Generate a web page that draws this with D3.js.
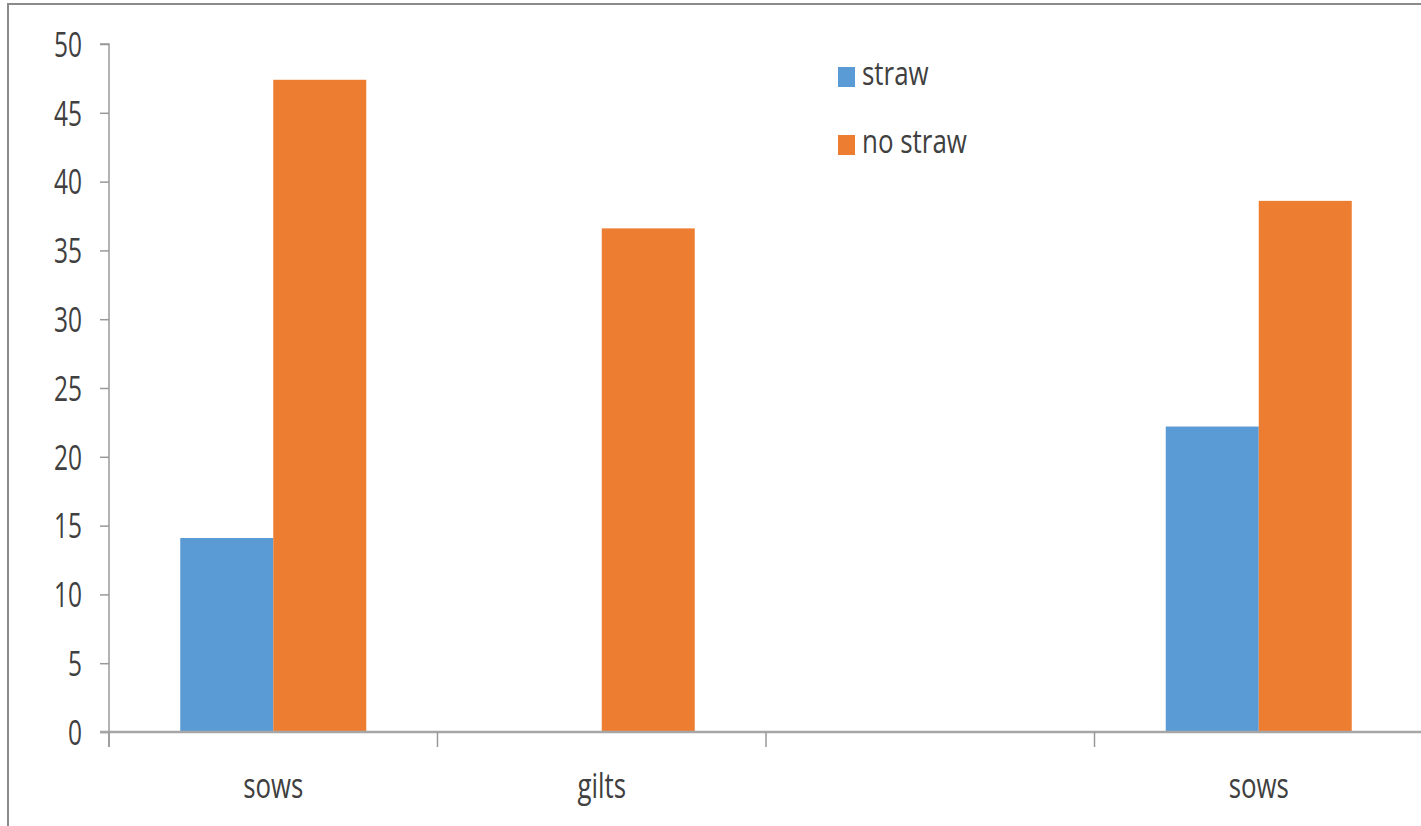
<!DOCTYPE html>
<html><head><meta charset="utf-8">
<script src="https://cdn.jsdelivr.net/npm/d3@7"></script>
<style>
html,body{margin:0;padding:0;background:#fff;}
svg{display:block;}
text{font-family:"Open Sans",sans-serif;fill:#404040;}
</style></head>
<body>
<svg id="c" width="1421" height="826"></svg>
<script>
const categories = ["sows", "gilts", "", "sows"];
const seriesNames = ["straw", "no straw"];
const straw = [14.1, 0, null, 22.2];
const noStraw = [47.4, 36.6, null, 38.6];
const yTicks = [0, 5, 10, 15, 20, 25, 30, 35, 40, 45, 50];
const colors = ["#5B9BD5", "#ED7D31"];

(function () {
const svg = d3.select("#c");
// outer frame
svg.append("rect").attr("x", 8).attr("y", 4).attr("width", 1430).attr("height", 840)
  .attr("fill", "none").attr("stroke", "#8a8a8a").attr("stroke-width", 2);

const mLeft = 109, mRight = 1423, mTop = 44, mBottom = 732;
const idx = categories.map((d, i) => i);
const x0 = d3.scaleBand().domain(idx).range([mLeft, mRight]).paddingInner(0).paddingOuter(0);
const x1 = d3.scaleBand().domain(seriesNames).range([0, x0.bandwidth()]).paddingInner(0).paddingOuter(0.766);
const y = d3.scaleLinear().domain([0, 50]).range([mBottom, mTop]);

const seriesVals = [straw, noStraw];
const g = svg.append("g");
idx.forEach(i => {
  seriesNames.forEach((s, k) => {
    const v = seriesVals[k][i];
    if (v == null || v === 0) return;
    g.append("rect")
      .attr("x", x0(i) + x1(s))
      .attr("y", y(v))
      .attr("width", x1.bandwidth())
      .attr("height", y(0) - y(v))
      .attr("fill", colors[k]);
  });
});

// y axis
const yAxis = svg.append("g").attr("transform", `translate(${mLeft},0)`)
  .call(d3.axisLeft(y).tickValues(yTicks).tickSize(9).tickPadding(16));
yAxis.select(".domain").attr("stroke", "#999").attr("stroke-width", 1.5).attr("d", `M-9,${mTop}H0V${mBottom + 15}`);
yAxis.selectAll(".tick line").attr("stroke", "#999").attr("stroke-width", 1.5);
yAxis.selectAll(".tick text").attr("font-size", 34).attr("fill", "#404040")
  .attr("x", 0).attr("dy", "0.36em")
  .attr("transform", "translate(-27,0) scale(0.72,1)");

// x axis
const xAxis = svg.append("g").attr("transform", `translate(0,${mBottom})`)
  .call(d3.axisBottom(x0).tickSize(0).tickFormat(i => categories[i]));
xAxis.select(".domain").attr("stroke", "#a6a6a6").attr("stroke-width", 2.5).attr("d", `M${mLeft - 9},0H${mRight}`);
xAxis.selectAll(".tick text").attr("font-size", 34).attr("fill", "#404040")
  .attr("y", 0).attr("dy", 0)
  .attr("transform", "translate(0,66) scale(0.76,1)");
// category separators
idx.forEach(i => {
  xAxis.append("line").attr("x1", x0(i)).attr("x2", x0(i)).attr("y1", 0).attr("y2", 15)
    .attr("stroke", "#999").attr("stroke-width", 1.5);
});

// legend
const legend = svg.append("g");
seriesNames.forEach((s, k) => {
  const ly = 67 + k * 68;
  legend.append("rect").attr("x", 838).attr("y", ly).attr("width", 17).attr("height", 20).attr("fill", colors[k]);
  legend.append("text").attr("transform", `translate(862,${ly + 18}) scale(0.81,1)`)
    .attr("font-size", 32).text(s);
});
})();
</script>
</body></html>
